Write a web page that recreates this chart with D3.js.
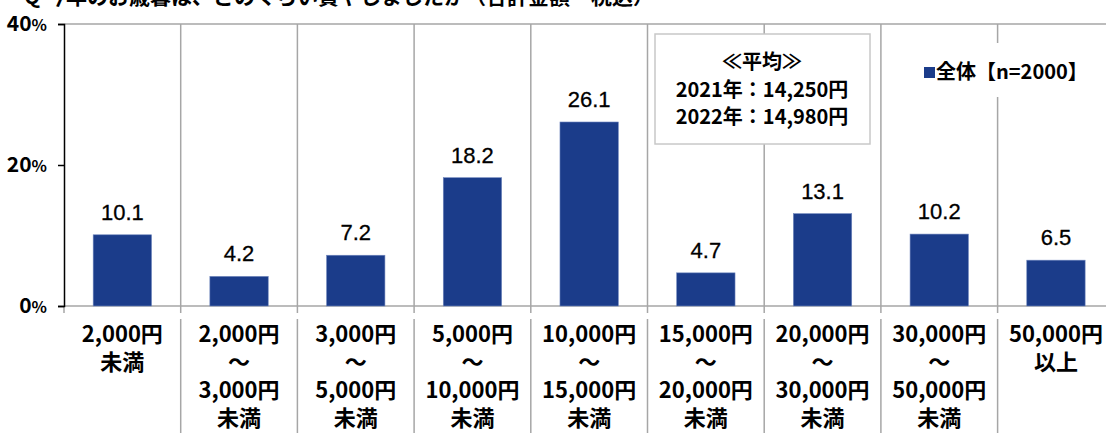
<!DOCTYPE html>
<html>
<head>
<meta charset="utf-8">
<script src="https://cdn.jsdelivr.net/npm/d3@7"></script>
<style>
  body { margin: 0; background: #fff; overflow: hidden; }
</style>
</head>
<body>
<div id="my_dataviz"></div>
<script>
// data
var categories = ["c1","c2","c3","c4","c5","c6","c7","c8","c9"];
var categoryLines = [
  ["2,000円","未満"],
  ["2,000円","～","3,000円","未満"],
  ["3,000円","～","5,000円","未満"],
  ["5,000円","～","10,000円","未満"],
  ["10,000円","～","15,000円","未満"],
  ["15,000円","～","20,000円","未満"],
  ["20,000円","～","30,000円","未満"],
  ["30,000円","～","50,000円","未満"],
  ["50,000円","以上"]
];
var values = [10.1, 4.2, 7.2, 18.2, 26.1, 4.7, 13.1, 10.2, 6.5];
var yTicks = [0, 20, 40];
var legendLabel = "全体【n=2000】";
var avgLines = ["≪平均≫", "2021年：14,250円", "2022年：14,980円"];
var titleText = "Q 今年のお歳暮は、どのくらい費やしましたか（合計金額・税込）";

var fontJP = "'Noto Sans CJK JP', 'Noto Sans', sans-serif";
var fontNum = "'Liberation Sans', Arial, sans-serif";
var barColor = "#1b3c8a";
var gridColor = "#a6a6a6";

var W = 1106, H = 433;
var plotLeft = 64, plotTop = 24, plotBottom = 306, band = 116.7;

var svg = d3.select("#my_dataviz")
  .append("svg")
    .attr("width", W)
    .attr("height", H);

// scales
var x = d3.scaleBand()
  .domain(categories)
  .range([plotLeft, plotLeft + band * categories.length])
  .paddingInner(0)
  .paddingOuter(0);

var y = d3.scaleLinear()
  .domain([0, 40])
  .range([plotBottom, plotTop]);

// cut-off title at the very top
svg.append("text")
  .attr("x", 24)
  .attr("y", 4)
  .attr("font-family", fontJP)
  .attr("font-weight", 700)
  .attr("font-size", 21)
  .text(titleText);

// top border
svg.append("line")
  .attr("x1", plotLeft).attr("x2", W)
  .attr("y1", y(40)).attr("y2", y(40))
  .attr("stroke", gridColor).attr("stroke-width", 1.5);

// vertical grid lines between categories
var dividers = categories.map(function(d){ return x(d) + x.bandwidth(); });
svg.selectAll("vgrid")
  .data(dividers)
  .enter()
  .append("line")
    .attr("x1", function(d){ return d; })
    .attr("x2", function(d){ return d; })
    .attr("y1", y(40))
    .attr("y2", y(0) + 7)
    .attr("stroke", gridColor)
    .attr("stroke-width", 1.5);

// divider lines in the label area
svg.selectAll("ldiv")
  .data(dividers)
  .enter()
  .append("line")
    .attr("x1", function(d){ return d; })
    .attr("x2", function(d){ return d; })
    .attr("y1", 319)
    .attr("y2", H)
    .attr("stroke", gridColor)
    .attr("stroke-width", 1.5);

// bottom axis line
svg.append("line")
  .attr("x1", plotLeft).attr("x2", W)
  .attr("y1", y(0)).attr("y2", y(0))
  .attr("stroke", gridColor).attr("stroke-width", 1.5);
svg.append("line")
  .attr("x1", plotLeft).attr("x2", plotLeft)
  .attr("y1", y(0)).attr("y2", y(0) + 7)
  .attr("stroke", gridColor).attr("stroke-width", 1.5);

// bars
var barW = x.bandwidth() * 0.5;
svg.selectAll("bar")
  .data(values)
  .enter()
  .append("rect")
    .attr("x", function(d, i){ return x(categories[i]) + (x.bandwidth() - barW) / 2; })
    .attr("y", function(d){ return y(d); })
    .attr("width", barW)
    .attr("height", function(d){ return y(0) - y(d); })
    .attr("fill", barColor)
    .attr("stroke", "#6f86bd")
    .attr("stroke-width", 0.6);

// value labels
svg.selectAll("vlabel")
  .data(values)
  .enter()
  .append("text")
    .attr("x", function(d, i){ return x(categories[i]) + x.bandwidth() / 2; })
    .attr("y", function(d){ return y(d) - 15; })
    .attr("text-anchor", "middle")
    .attr("font-family", fontNum)
    .attr("font-size", 22)
    .attr("fill", "#000")
    .attr("stroke", "#000")
    .attr("stroke-width", 0.3)
    .text(function(d){ return d.toFixed(1); });

// y axis
var yAxis = svg.append("g")
  .attr("transform", "translate(" + plotLeft + ",0)")
  .call(d3.axisLeft(y).tickValues(yTicks).tickSize(6).tickPadding(11)
    .tickFormat(function(d){ return d + "%"; }));
yAxis.select(".domain").attr("stroke", "#000").attr("stroke-width", 1.5);
yAxis.selectAll(".tick line").attr("stroke", "#000").attr("stroke-width", 1.5);
yAxis.selectAll(".tick text")
  .attr("font-family", fontJP)
  .attr("font-weight", 700)
  .attr("font-size", 21)
  .attr("fill", "#000")
  .attr("dy", "0.32em");
yAxis.selectAll(".tick text").each(function(d){
  var t = d3.select(this);
  t.text("");
  t.append("tspan").text(d);
  t.append("tspan").attr("font-size", 16).text("%");
});

// category labels
var catG = svg.selectAll("catlabel")
  .data(categoryLines)
  .enter()
  .append("text")
    .attr("x", function(d, i){ return x(categories[i]) + x.bandwidth() / 2; })
    .attr("y", 334)
    .attr("text-anchor", "middle")
    .attr("font-family", fontJP)
    .attr("font-weight", 700)
    .attr("font-size", 22)
    .attr("fill", "#000");
catG.selectAll("tspan")
  .data(function(d){ return d; })
  .enter()
  .append("tspan")
    .attr("x", function(){ return d3.select(this.parentNode).attr("x"); })
    .attr("y", function(d, j){ return 334 + j * 28; })
    .attr("dy", "0.35em")
    .text(function(d){ return d; });

// average box
svg.append("rect")
  .attr("x", 655).attr("y", 34)
  .attr("width", 215).attr("height", 110)
  .attr("fill", "#fff")
  .attr("stroke", "#c8c8c8")
  .attr("stroke-width", 1.5);
svg.selectAll("avgline")
  .data(avgLines)
  .enter()
  .append("text")
    .attr("x", 762)
    .attr("y", function(d, i){ return 62 + i * 27.5; })
    .attr("dy", "0.35em")
    .attr("text-anchor", "middle")
    .attr("font-family", fontJP)
    .attr("font-weight", 700)
    .attr("font-size", 20)
    .text(function(d){ return d; });

// legend
svg.append("rect")
  .attr("x", 918).attr("y", 43)
  .attr("width", 170).attr("height", 54)
  .attr("fill", "#fff");
svg.append("rect")
  .attr("x", 924).attr("y", 67)
  .attr("width", 11).attr("height", 11)
  .attr("fill", barColor);
svg.append("text")
  .attr("x", 936)
  .attr("y", 72)
  .attr("dy", "0.35em")
  .attr("font-family", fontJP)
  .attr("font-weight", 700)
  .attr("font-size", 20)
  .text(legendLabel);
</script>
</body>
</html>
